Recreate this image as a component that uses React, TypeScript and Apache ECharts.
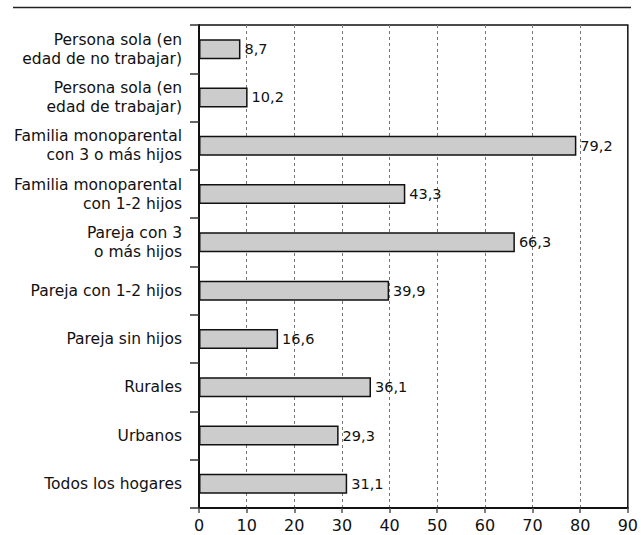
import React, { useEffect, useRef } from "react";
import * as echarts from "echarts";

const categories: string[] = [
  "Persona sola (en\nedad de no trabajar)",
  "Persona sola (en\nedad de trabajar)",
  "Familia monoparental\ncon 3 o más hijos",
  "Familia monoparental\ncon 1-2 hijos",
  "Pareja con 3\no más hijos",
  "Pareja con 1-2 hijos",
  "Pareja sin hijos",
  "Rurales",
  "Urbanos",
  "Todos los hogares",
];
const values: number[] = [8.7, 10.2, 79.2, 43.3, 66.3, 39.9, 16.6, 36.1, 29.3, 31.1];
const xMin = 0;
const xMax = 90;
const xInterval = 10;

const FONT = "DejaVu Sans";

export default function App() {
  const ref = useRef<HTMLDivElement>(null);
  useEffect(() => {
    document.body.style.margin = "0";
    const chart = echarts.init(ref.current!, null, { renderer: "svg" });
    chart.setOption({
      animation: false,
      backgroundColor: "#ffffff",
      textStyle: { fontFamily: FONT },
      graphic: [
        {
          type: "line",
          shape: { x1: 13, y1: 7.5, x2: 631, y2: 7.5 },
          style: { stroke: "#222", lineWidth: 1.5 },
        },
      ],
      grid: {
        left: 199,
        right: 12,
        top: 25,
        bottom: 27,
        show: true,
        borderColor: "#111",
        borderWidth: 1.5,
        backgroundColor: "transparent",
      },
      xAxis: {
        type: "value",
        min: xMin,
        max: xMax,
        interval: xInterval,
        axisLine: { show: true, lineStyle: { color: "#111", width: 2 } },
        axisTick: { show: true, length: 5, lineStyle: { color: "#555", width: 1.5 } },
        axisLabel: {
          color: "#111",
          fontSize: 16,
          fontFamily: FONT,
          margin: 9,
        },
        splitLine: {
          show: true,
          lineStyle: { color: "#777", type: [3, 3], width: 1 },
        },
      },
      yAxis: {
        type: "category",
        inverse: true,
        data: categories,
        axisLine: { show: true, lineStyle: { color: "#111", width: 2 } },
        axisTick: {
          show: true,
          length: 9,
          alignWithLabel: false,
          lineStyle: { color: "#333", width: 1.5 },
        },
        axisLabel: {
          color: "#111",
          fontSize: 15.5,
          lineHeight: 19,
          fontFamily: FONT,
          margin: 17,
          align: "right",
        },
        splitLine: { show: false },
      },
      series: [
        {
          type: "bar",
          data: values,
          barWidth: 20,
          itemStyle: { color: "#cccccc", borderColor: "#111", borderWidth: 1.5 },
          label: {
            show: true,
            position: "right",
            distance: 4,
            color: "#111",
            fontSize: 14.5,
            fontFamily: FONT,
            formatter: (p: any) => String(p.value).replace(".", ","),
          },
        },
      ],
    });
    return () => chart.dispose();
  }, []);
  return (
    <div
      ref={ref}
      style={{ width: 641, height: 535, position: "absolute", left: 0, top: 0 }}
    />
  );
}
